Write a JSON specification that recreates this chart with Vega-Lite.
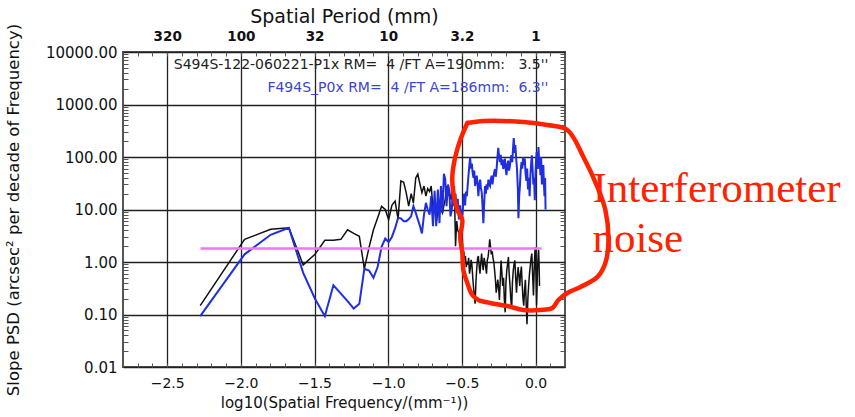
{
  "$schema": "https://vega.github.io/schema/vega-lite/v6.json",
  "width": 442,
  "height": 315,
  "autosize": {"type": "none"},
  "padding": {"left": 123, "top": 52, "right": 290, "bottom": 50},
  "background": "white",
  "config": {
    "view": {"stroke": "#555555", "strokeWidth": 2},
    "axis": {"labelFont": "DejaVu Sans", "titleFont": "DejaVu Sans", "labelColor": "#111111", "titleColor": "#111111", "titleFontWeight": "normal"}
  },
  "resolve": {"axis": {"x": "independent", "y": "independent"}},
  "datasets": {
    "black": [
      {"x": -2.276, "y": 0.148}, {"x": -1.975, "y": 2.7}, {"x": -1.798, "y": 4.2}, {"x": -1.674, "y": 4.5}, {"x": -1.577, "y": 0.88},
      {"x": -1.497, "y": 1.4}, {"x": -1.43, "y": 2.6}, {"x": -1.372, "y": 2.6}, {"x": -1.321, "y": 2.7}, {"x": -1.276, "y": 4.1},
      {"x": -1.234, "y": 3.5}, {"x": -1.196, "y": 3.1}, {"x": -1.162, "y": 0.74}, {"x": -1.13, "y": 1.9}, {"x": -1.1, "y": 4.1},
      {"x": -1.072, "y": 6.9}, {"x": -1.045, "y": 11.5}, {"x": -1.02, "y": 10}, {"x": -0.997, "y": 6.4}, {"x": -0.975, "y": 12},
      {"x": -0.953, "y": 14.5}, {"x": -0.933, "y": 6.5}, {"x": -0.914, "y": 35}, {"x": -0.895, "y": 33}, {"x": -0.878, "y": 21},
      {"x": -0.861, "y": 11.6}, {"x": -0.844, "y": 20}, {"x": -0.829, "y": 13.4}, {"x": -0.813, "y": 40}, {"x": -0.799, "y": 47},
      {"x": -0.784, "y": 30}, {"x": -0.771, "y": 21}, {"x": -0.757, "y": 28}, {"x": -0.744, "y": 18}, {"x": -0.732, "y": 25},
      {"x": -0.719, "y": 22}, {"x": -0.708, "y": 28}, {"x": -0.696, "y": 10}, {"x": -0.685, "y": 15}, {"x": -0.674, "y": 5.5},
      {"x": -0.663, "y": 9}, {"x": -0.652, "y": 13.4}, {"x": -0.642, "y": 10}, {"x": -0.632, "y": 8.6}, {"x": -0.622, "y": 12},
      {"x": -0.613, "y": 15.6}, {"x": -0.604, "y": 28}, {"x": -0.594, "y": 18}, {"x": -0.586, "y": 24}, {"x": -0.577, "y": 15.5},
      {"x": -0.568, "y": 20}, {"x": -0.56, "y": 11.6}, {"x": -0.551, "y": 28}, {"x": -0.543, "y": 2.0}, {"x": -0.535, "y": 6},
      {"x": -0.528, "y": 4}, {"x": -0.52, "y": 3.6}, {"x": -0.512, "y": 2.2}, {"x": -0.505, "y": 2.5}, {"x": -0.497, "y": 2.9},
      {"x": -0.492, "y": 1.4}, {"x": -0.487, "y": 1.6}, {"x": -0.481, "y": 1.1}, {"x": -0.476, "y": 1.3}, {"x": -0.47, "y": 0.8},
      {"x": -0.465, "y": 1.0}, {"x": -0.459, "y": 0.9}, {"x": -0.454, "y": 1.2}, {"x": -0.448, "y": 0.6}, {"x": -0.443, "y": 0.75},
      {"x": -0.437, "y": 1.1}, {"x": -0.432, "y": 0.9}, {"x": -0.426, "y": 0.5}, {"x": -0.421, "y": 0.33}, {"x": -0.415, "y": 0.22},
      {"x": -0.41, "y": 0.16}, {"x": -0.404, "y": 0.45}, {"x": -0.399, "y": 0.75}, {"x": -0.393, "y": 1.2}, {"x": -0.388, "y": 1.3},
      {"x": -0.382, "y": 0.8}, {"x": -0.377, "y": 0.6}, {"x": -0.371, "y": 1.0}, {"x": -0.366, "y": 1.45}, {"x": -0.36, "y": 0.9},
      {"x": -0.355, "y": 0.7}, {"x": -0.349, "y": 1.2}, {"x": -0.344, "y": 1.0}, {"x": -0.338, "y": 0.8}, {"x": -0.333, "y": 0.6},
      {"x": -0.327, "y": 1.1}, {"x": -0.322, "y": 1.25}, {"x": -0.316, "y": 1.8}, {"x": -0.311, "y": 2.7}, {"x": -0.305, "y": 1.9},
      {"x": -0.3, "y": 1.4}, {"x": -0.294, "y": 1.6}, {"x": -0.289, "y": 1.2}, {"x": -0.283, "y": 1.0}, {"x": -0.278, "y": 0.7},
      {"x": -0.272, "y": 0.45}, {"x": -0.267, "y": 0.26}, {"x": -0.261, "y": 0.35}, {"x": -0.256, "y": 0.46}, {"x": -0.25, "y": 0.3},
      {"x": -0.245, "y": 0.19}, {"x": -0.239, "y": 0.5}, {"x": -0.234, "y": 1.07}, {"x": -0.228, "y": 0.6}, {"x": -0.223, "y": 0.35},
      {"x": -0.217, "y": 0.5}, {"x": -0.212, "y": 0.2}, {"x": -0.206, "y": 0.11}, {"x": -0.201, "y": 0.4}, {"x": -0.195, "y": 0.7},
      {"x": -0.19, "y": 0.9}, {"x": -0.184, "y": 1.25}, {"x": -0.179, "y": 0.6}, {"x": -0.173, "y": 0.35}, {"x": -0.168, "y": 0.2},
      {"x": -0.162, "y": 0.127}, {"x": -0.157, "y": 0.4}, {"x": -0.151, "y": 0.7}, {"x": -0.146, "y": 0.9}, {"x": -0.14, "y": 1.07},
      {"x": -0.135, "y": 0.5}, {"x": -0.129, "y": 0.26}, {"x": -0.124, "y": 0.5}, {"x": -0.118, "y": 0.8}, {"x": -0.113, "y": 0.55},
      {"x": -0.107, "y": 0.35}, {"x": -0.102, "y": 0.6}, {"x": -0.096, "y": 0.82}, {"x": -0.091, "y": 0.4}, {"x": -0.085, "y": 0.2},
      {"x": -0.08, "y": 0.147}, {"x": -0.074, "y": 0.3}, {"x": -0.069, "y": 0.46}, {"x": -0.063, "y": 0.15}, {"x": -0.058, "y": 0.065},
      {"x": -0.052, "y": 0.2}, {"x": -0.047, "y": 0.35}, {"x": -0.041, "y": 0.6}, {"x": -0.036, "y": 0.82}, {"x": -0.03, "y": 1.2},
      {"x": -0.025, "y": 1.45}, {"x": -0.019, "y": 0.5}, {"x": -0.014, "y": 0.23}, {"x": -0.008, "y": 0.9}, {"x": -0.003, "y": 1.9},
      {"x": 0.002, "y": 0.7}, {"x": 0.007, "y": 0.15}, {"x": 0.011, "y": 0.4}, {"x": 0.014, "y": 0.82}, {"x": 0.018, "y": 1.3},
      {"x": 0.021, "y": 1.7}, {"x": 0.024, "y": 0.9}, {"x": 0.027, "y": 0.35}
    ],
    "blue": [
      {"x": -2.276, "y": 0.093}, {"x": -1.975, "y": 1.4}, {"x": -1.798, "y": 3.3}, {"x": -1.674, "y": 4.5}, {"x": -1.577, "y": 0.62},
      {"x": -1.497, "y": 0.2}, {"x": -1.43, "y": 0.093}, {"x": -1.372, "y": 0.36}, {"x": -1.321, "y": 0.25}, {"x": -1.276, "y": 0.18},
      {"x": -1.234, "y": 0.13}, {"x": -1.196, "y": 0.16}, {"x": -1.162, "y": 0.74}, {"x": -1.13, "y": 0.69}, {"x": -1.1, "y": 0.5},
      {"x": -1.072, "y": 0.8}, {"x": -1.045, "y": 1.95}, {"x": -1.02, "y": 2.8}, {"x": -0.997, "y": 2.4}, {"x": -0.975, "y": 3.0},
      {"x": -0.953, "y": 4.4}, {"x": -0.933, "y": 7.0}, {"x": -0.914, "y": 6.8}, {"x": -0.895, "y": 6.0}, {"x": -0.878, "y": 6.0},
      {"x": -0.861, "y": 6.5}, {"x": -0.844, "y": 7.5}, {"x": -0.829, "y": 11.6}, {"x": -0.813, "y": 8.6}, {"x": -0.799, "y": 6.5},
      {"x": -0.784, "y": 4.8}, {"x": -0.771, "y": 3.5}, {"x": -0.757, "y": 8}, {"x": -0.744, "y": 13.4}, {"x": -0.732, "y": 10},
      {"x": -0.719, "y": 8}, {"x": -0.708, "y": 18}, {"x": -0.696, "y": 4.8}, {"x": -0.685, "y": 22.7}, {"x": -0.674, "y": 4.8},
      {"x": -0.663, "y": 24}, {"x": -0.652, "y": 5.5}, {"x": -0.642, "y": 28}, {"x": -0.632, "y": 8.6}, {"x": -0.622, "y": 48},
      {"x": -0.613, "y": 38}, {"x": -0.604, "y": 11.6}, {"x": -0.594, "y": 30}, {"x": -0.586, "y": 24}, {"x": -0.577, "y": 7.4},
      {"x": -0.568, "y": 10}, {"x": -0.56, "y": 30}, {"x": -0.551, "y": 14}, {"x": -0.543, "y": 20}, {"x": -0.535, "y": 9},
      {"x": -0.528, "y": 16}, {"x": -0.52, "y": 6.5}, {"x": -0.512, "y": 12}, {"x": -0.505, "y": 8}, {"x": -0.497, "y": 7.3},
      {"x": -0.49, "y": 14}, {"x": -0.484, "y": 20}, {"x": -0.478, "y": 12}, {"x": -0.472, "y": 22}, {"x": -0.466, "y": 18},
      {"x": -0.46, "y": 30}, {"x": -0.455, "y": 45}, {"x": -0.449, "y": 70}, {"x": -0.444, "y": 98}, {"x": -0.438, "y": 60},
      {"x": -0.432, "y": 75}, {"x": -0.427, "y": 50}, {"x": -0.421, "y": 40}, {"x": -0.416, "y": 55}, {"x": -0.41, "y": 28},
      {"x": -0.405, "y": 36}, {"x": -0.399, "y": 44}, {"x": -0.393, "y": 30}, {"x": -0.388, "y": 18}, {"x": -0.382, "y": 30},
      {"x": -0.376, "y": 37}, {"x": -0.371, "y": 26}, {"x": -0.365, "y": 21}, {"x": -0.36, "y": 12}, {"x": -0.354, "y": 5.5},
      {"x": -0.349, "y": 12}, {"x": -0.343, "y": 28}, {"x": -0.337, "y": 20}, {"x": -0.332, "y": 30}, {"x": -0.326, "y": 24},
      {"x": -0.32, "y": 37}, {"x": -0.315, "y": 30}, {"x": -0.309, "y": 28}, {"x": -0.304, "y": 38}, {"x": -0.298, "y": 44},
      {"x": -0.292, "y": 30}, {"x": -0.287, "y": 40}, {"x": -0.281, "y": 50}, {"x": -0.275, "y": 59}, {"x": -0.27, "y": 42},
      {"x": -0.264, "y": 60}, {"x": -0.259, "y": 95}, {"x": -0.253, "y": 150}, {"x": -0.247, "y": 100}, {"x": -0.242, "y": 80},
      {"x": -0.236, "y": 110}, {"x": -0.231, "y": 70}, {"x": -0.225, "y": 90}, {"x": -0.219, "y": 59}, {"x": -0.214, "y": 75},
      {"x": -0.208, "y": 93}, {"x": -0.203, "y": 60}, {"x": -0.197, "y": 45}, {"x": -0.192, "y": 70}, {"x": -0.186, "y": 85},
      {"x": -0.18, "y": 55}, {"x": -0.175, "y": 65}, {"x": -0.169, "y": 90}, {"x": -0.164, "y": 108}, {"x": -0.158, "y": 80},
      {"x": -0.153, "y": 140}, {"x": -0.148, "y": 230}, {"x": -0.142, "y": 120}, {"x": -0.137, "y": 169}, {"x": -0.131, "y": 90},
      {"x": -0.126, "y": 60}, {"x": -0.12, "y": 25}, {"x": -0.116, "y": 6.8}, {"x": -0.111, "y": 18}, {"x": -0.106, "y": 28},
      {"x": -0.101, "y": 55}, {"x": -0.095, "y": 80}, {"x": -0.09, "y": 60}, {"x": -0.084, "y": 100}, {"x": -0.079, "y": 70},
      {"x": -0.073, "y": 93}, {"x": -0.068, "y": 50}, {"x": -0.062, "y": 35}, {"x": -0.057, "y": 60}, {"x": -0.051, "y": 24},
      {"x": -0.046, "y": 40}, {"x": -0.04, "y": 18}, {"x": -0.035, "y": 45}, {"x": -0.029, "y": 80}, {"x": -0.025, "y": 108},
      {"x": -0.02, "y": 60}, {"x": -0.015, "y": 30}, {"x": -0.01, "y": 40}, {"x": -0.005, "y": 15}, {"x": 0.0, "y": 50},
      {"x": 0.004, "y": 90}, {"x": 0.008, "y": 125}, {"x": 0.012, "y": 80}, {"x": 0.016, "y": 59}, {"x": 0.02, "y": 155},
      {"x": 0.024, "y": 90}, {"x": 0.029, "y": 80}, {"x": 0.033, "y": 45}, {"x": 0.038, "y": 100}, {"x": 0.043, "y": 30},
      {"x": 0.048, "y": 60}, {"x": 0.053, "y": 70}, {"x": 0.057, "y": 30}, {"x": 0.061, "y": 18}, {"x": 0.065, "y": 40},
      {"x": 0.068, "y": 10}
    ],
    "pink": [{"x": -2.274, "y": 1.8}, {"x": 0.041, "y": 1.8}],
    "notes": [
      {"s": "S494S", "x": 0.087, "y": 5650, "t": "S494S-122-060221-P1x RM=\u00a0 4 /FT A=190mm:\u00a0\u00a0 3.5''"},
      {"s": "F494S", "x": 0.087, "y": 2060, "t": "F494S_P0x RM=\u00a0 4 /FT A=186mm:\u00a0 6.3''"}
    ],
    "loop": [
      {"i": 0, "x": -0.463, "y": 445}, {"i": 1, "x": -0.354, "y": 485}, {"i": 2, "x": -0.083, "y": 464}, {"i": 3, "x": 0.08, "y": 407},
      {"i": 4, "x": 0.216, "y": 327}, {"i": 5, "x": 0.325, "y": 100}, {"i": 6, "x": 0.42, "y": 26.8}, {"i": 7, "x": 0.474, "y": 9.8},
      {"i": 8, "x": 0.495, "y": 2.6}, {"i": 9, "x": 0.474, "y": 0.96}, {"i": 10, "x": 0.42, "y": 0.52}, {"i": 11, "x": 0.305, "y": 0.334},
      {"i": 12, "x": 0.216, "y": 0.257}, {"i": 13, "x": 0.155, "y": 0.189}, {"i": 14, "x": 0.114, "y": 0.133}, {"i": 15, "x": 0.033, "y": 0.122},
      {"i": 16, "x": -0.083, "y": 0.122}, {"i": 17, "x": -0.191, "y": 0.145}, {"i": 18, "x": -0.307, "y": 0.166}, {"i": 19, "x": -0.388, "y": 0.189},
      {"i": 20, "x": -0.429, "y": 0.235}, {"i": 21, "x": -0.463, "y": 0.398}, {"i": 22, "x": -0.49, "y": 0.705}, {"i": 23, "x": -0.497, "y": 1.48},
      {"i": 24, "x": -0.511, "y": 2.99}, {"i": 25, "x": -0.497, "y": 6.3}, {"i": 26, "x": -0.531, "y": 9.8}, {"i": 27, "x": -0.558, "y": 20.6},
      {"i": 28, "x": -0.565, "y": 41.6}, {"i": 29, "x": -0.545, "y": 100}, {"i": 30, "x": -0.511, "y": 211}, {"i": 31, "x": -0.463, "y": 445}
    ],
    "label": [
      {"x": 0.386, "y": 13.9, "t": "Interferometer"},
      {"x": 0.386, "y": 1.55, "t": "noise"}
    ]
  },
  "layer": [
    {
      "data": {"name": "pink"},
      "mark": {"type": "point", "opacity": 0},
      "encoding": {
        "x": {"field": "x", "type": "quantitative", "scale": {"domain": [-2.8, 0.2], "nice": false, "zero": false},
          "axis": {"orient": "bottom", "values": [-2.5, -2, -1.5, -1, -0.5, 0], "format": ".1f", "grid": true, "gridColor": "#222222", "gridWidth": 1.3, "gridOpacity": 1, "ticks": false, "domain": false, "labelFontSize": 14, "labelPadding": 9, "title": "log10(Spatial Frequency/(mm⁻¹))", "titleFontSize": 15, "titlePadding": 5}},
        "y": {"field": "y", "type": "quantitative", "scale": {"type": "log", "domain": [0.01, 10000], "nice": false},
          "axis": {"orient": "left", "values": [0.01, 0.1, 1, 10, 100, 1000, 10000], "format": ".2f", "grid": true, "gridColor": "#222222", "gridWidth": 1.3, "gridOpacity": 1, "ticks": false, "domain": false, "labelFontSize": 15, "labelPadding": 6, "title": "Slope PSD (arcsec² per decade of Frequency)", "titleFontSize": 16.5, "titlePadding": 24}}
      }
    },
    {
      "data": {"name": "pink"},
      "mark": {"type": "point", "opacity": 0},
      "encoding": {
        "x": {"field": "x", "type": "quantitative", "scale": {"domain": [-2.8, 0.2], "nice": false, "zero": false},
          "axis": {"orient": "top", "values": [-2.5, -2, -1.5, -1, -0.5, 0], "labelExpr": "datum.value == -2.5 ? '320' : datum.value == -2 ? '100' : datum.value == -1.5 ? '32' : datum.value == -1 ? '10' : datum.value == -0.5 ? '3.2' : '1'", "grid": false, "ticks": false, "domain": false, "labelFontSize": 13.5, "labelFontWeight": "bold", "labelPadding": 9, "title": "Spatial Period (mm)", "titleFontSize": 19, "titlePadding": 3}},
        "y": {"field": "y", "type": "quantitative", "scale": {"type": "log", "domain": [0.01, 10000], "nice": false},
          "axis": {"orient": "right", "values": [0.02, 0.03, 0.04, 0.05, 0.06, 0.07, 0.08, 0.09, 0.2, 0.3, 0.4, 0.5, 0.6, 0.7, 0.8, 0.9, 2, 3, 4, 5, 6, 7, 8, 9, 20, 30, 40, 50, 60, 70, 80, 90, 200, 300, 400, 500, 600, 700, 800, 900, 2000, 3000, 4000, 5000, 6000, 7000, 8000, 9000], "labels": false, "grid": false, "domain": false, "tickSize": -5, "tickColor": "#555555", "title": null}}
      }
    },
    {
      "data": {"name": "pink"},
      "mark": {"type": "point", "opacity": 0},
      "encoding": {
        "x": {"field": "x", "type": "quantitative", "scale": {"domain": [-2.8, 0.2], "nice": false, "zero": false},
          "axis": {"orient": "bottom", "values": [-2.7, -2.6, -2.5, -2.4, -2.3, -2.2, -2.1, -2.0, -1.9, -1.8, -1.7, -1.6, -1.5, -1.4, -1.3, -1.2, -1.1, -1.0, -0.9, -0.8, -0.7, -0.6, -0.5, -0.4, -0.3, -0.2, -0.1, 0, 0.1], "labels": false, "grid": false, "domain": false, "tickSize": -4, "tickColor": "#555555", "title": null}},
        "y": {"field": "y", "type": "quantitative", "scale": {"type": "log", "domain": [0.01, 10000], "nice": false},
          "axis": {"orient": "left", "values": [0.02, 0.03, 0.04, 0.05, 0.06, 0.07, 0.08, 0.09, 0.2, 0.3, 0.4, 0.5, 0.6, 0.7, 0.8, 0.9, 2, 3, 4, 5, 6, 7, 8, 9, 20, 30, 40, 50, 60, 70, 80, 90, 200, 300, 400, 500, 600, 700, 800, 900, 2000, 3000, 4000, 5000, 6000, 7000, 8000, 9000], "labels": false, "grid": false, "domain": false, "tickSize": -5, "tickColor": "#555555", "title": null}}
      }
    },
    {
      "data": {"name": "pink"},
      "mark": {"type": "point", "opacity": 0},
      "encoding": {
        "x": {"field": "x", "type": "quantitative", "scale": {"domain": [-2.8, 0.2], "nice": false, "zero": false},
          "axis": {"orient": "top", "values": [-2.7, -2.6, -2.5, -2.4, -2.3, -2.2, -2.1, -2.0, -1.9, -1.8, -1.7, -1.6, -1.5, -1.4, -1.3, -1.2, -1.1, -1.0, -0.9, -0.8, -0.7, -0.6, -0.5, -0.4, -0.3, -0.2, -0.1, 0, 0.1], "labels": false, "grid": false, "domain": false, "tickSize": -4, "tickColor": "#555555", "title": null}},
        "y": {"field": "y", "type": "quantitative", "scale": {"type": "log", "domain": [0.01, 10000], "nice": false}, "axis": null}
      }
    },
    {
      "data": {"name": "black"},
      "mark": {"type": "line", "color": "#111111", "strokeWidth": 1.5},
      "encoding": {
        "x": {"field": "x", "type": "quantitative", "axis": null},
        "y": {"field": "y", "type": "quantitative", "axis": null}
      }
    },
    {
      "data": {"name": "blue"},
      "mark": {"type": "line", "color": "#1f2fe0", "strokeWidth": 2},
      "encoding": {
        "x": {"field": "x", "type": "quantitative", "axis": null},
        "y": {"field": "y", "type": "quantitative", "axis": null}
      }
    },
    {
      "data": {"name": "pink"},
      "mark": {"type": "line", "color": "#ee77ee", "strokeWidth": 2.5},
      "encoding": {
        "x": {"field": "x", "type": "quantitative", "axis": null},
        "y": {"field": "y", "type": "quantitative", "axis": null}
      }
    },
    {
      "data": {"name": "notes"},
      "mark": {"type": "text", "align": "right", "baseline": "middle", "font": "DejaVu Sans", "fontSize": 14},
      "encoding": {
        "x": {"field": "x", "type": "quantitative", "axis": null},
        "y": {"field": "y", "type": "quantitative", "axis": null},
        "text": {"field": "t"},
        "color": {"field": "s", "type": "nominal", "scale": {"domain": ["S494S", "F494S"], "range": ["#222222", "#3a46d0"]}, "legend": null}
      }
    },
    {
      "data": {"name": "loop"},
      "mark": {"type": "line", "color": "#ff2200", "strokeWidth": 4.5, "clip": false, "strokeCap": "round", "strokeJoin": "round", "interpolate": "catmull-rom"},
      "encoding": {
        "x": {"field": "x", "type": "quantitative", "axis": null},
        "y": {"field": "y", "type": "quantitative", "axis": null},
        "order": {"field": "i", "type": "quantitative"}
      }
    },
    {
      "data": {"name": "label"},
      "mark": {"type": "text", "align": "left", "baseline": "alphabetic", "font": "Liberation Serif", "fontSize": 43, "color": "#ff2200", "clip": false},
      "encoding": {
        "x": {"field": "x", "type": "quantitative", "axis": null},
        "y": {"field": "y", "type": "quantitative", "axis": null},
        "text": {"field": "t"}
      }
    }
  ]
}
